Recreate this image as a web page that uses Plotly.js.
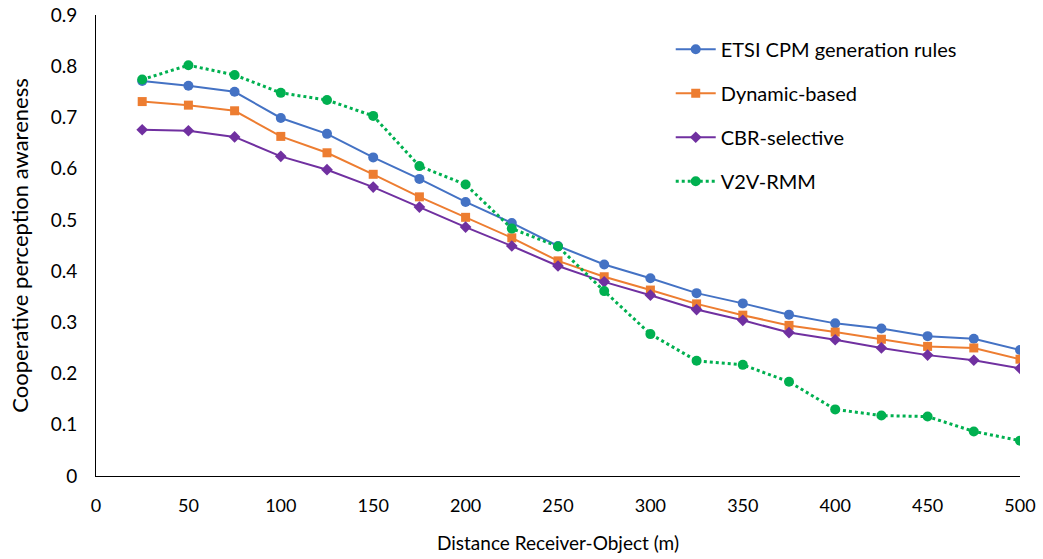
<!DOCTYPE html>
<html>
<head>
<meta charset="utf-8">
<script src="https://cdn.plot.ly/plotly-3.0.1.min.js"></script>
<style>html,body{margin:0;padding:0;background:#fff;}#chart{width:1043px;height:559px;}</style>
</head>
<body>
<div id="chart"></div>
<script>
const distance = [25,50,75,100,125,150,175,200,225,250,275,300,325,350,375,400,425,450,475,500];
const etsi = [0.771,0.762,0.750,0.699,0.668,0.622,0.580,0.535,0.494,0.449,0.413,0.386,0.357,0.337,0.315,0.298,0.288,0.273,0.268,0.246];
const dynamicBased = [0.731,0.724,0.713,0.663,0.631,0.589,0.545,0.505,0.465,0.420,0.389,0.363,0.336,0.314,0.294,0.281,0.267,0.253,0.250,0.228];
const cbrSelective = [0.676,0.674,0.662,0.624,0.598,0.564,0.525,0.486,0.449,0.410,0.379,0.353,0.325,0.304,0.280,0.266,0.250,0.236,0.226,0.210];
const v2vRmm = [0.774,0.802,0.783,0.748,0.734,0.703,0.605,0.569,0.483,0.448,0.361,0.277,0.225,0.217,0.184,0.130,0.118,0.116,0.087,0.069];
const seriesNames = ["ETSI CPM generation rules","Dynamic-based","CBR-selective","V2V-RMM"];
const xTicks = [0,50,100,150,200,250,300,350,400,450,500];
const yTicks = [0,0.1,0.2,0.3,0.4,0.5,0.6,0.7,0.8,0.9];

const font = "Lato, 'Open Sans', sans-serif";
const traces = [
  {x: distance, y: etsi, name: seriesNames[0], legendgroup: 'a', mode: 'lines+markers',
   line: {color: '#4472C4', width: 2}, marker: {symbol: 'circle', size: 10, color: '#4472C4'}},
  {x: distance, y: dynamicBased, name: seriesNames[1], legendgroup: 'b', mode: 'lines+markers',
   line: {color: '#ED7D31', width: 2}, marker: {symbol: 'square', size: 9, color: '#ED7D31'}},
  {x: distance, y: cbrSelective, name: seriesNames[2], legendgroup: 'c', mode: 'lines+markers',
   line: {color: '#7030A0', width: 2}, marker: {symbol: 'diamond', size: 9, color: '#7030A0'}},
  {x: distance, y: v2vRmm, name: seriesNames[3], legendgroup: 'd', mode: 'lines+markers',
   line: {color: '#00B050', width: 3, dash: 'dot'}, marker: {symbol: 'circle', size: 10, color: '#00B050'}}
];
const layout = {
  width: 1043, height: 559,
  margin: {l: 96, r: 23, t: 15, b: 83},
  paper_bgcolor: '#fff', plot_bgcolor: '#fff',
  font: {family: font, color: '#000', size: 18},
  showlegend: true,
  legend: {x: 0.622, y: 0.968, xanchor: 'left', yanchor: 'top', font: {family: font, size: 20, color: '#000'},
           tracegroupgap: 15, itemwidth: 40, bgcolor: 'rgba(0,0,0,0)'},
  xaxis: {range: [0, 500], tickvals: xTicks, ticktext: xTicks.map(String), showgrid: false, zeroline: false,
          showline: true, linecolor: '#000', linewidth: 1, ticks: 'outside', ticklen: 13, tickcolor: 'rgba(0,0,0,0)',
          tickfont: {family: font, size: 18},
          title: {text: 'Distance Receiver-Object (m)', font: {family: font, size: 19}, standoff: 22}},
  yaxis: {range: [0, 0.9], tickvals: yTicks, ticktext: yTicks.map(v => v === 0 ? '0' : v.toFixed(1)), showgrid: false, zeroline: false,
          showline: true, linecolor: '#000', linewidth: 1, ticks: 'outside', ticklen: 14, tickcolor: 'rgba(0,0,0,0)',
          tickfont: {family: font, size: 19},
          title: {text: 'Cooperative perception awareness', font: {family: font, size: 22}, standoff: 15}}
};
Plotly.newPlot('chart', traces, layout, {displayModeBar: false, staticPlot: true});
</script>
</body>
</html>
